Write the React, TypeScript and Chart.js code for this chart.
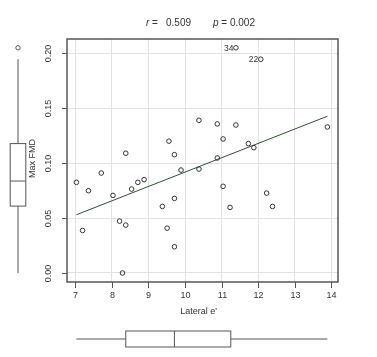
import React, { useEffect, useRef } from 'react';
import { Chart, registerables } from 'chart.js';

Chart.register(...registerables);

// ---- Data ----
const lateralE = [
  10.38, 10.88, 9.56, 9.71, 8.38, 10.88, 11.39, 12.07, 11.39, 11.04, 11.73, 11.88,
  13.89, 7.71, 9.89, 10.38, 7.03, 7.36, 8.71, 8.88, 8.54, 8.03, 9.38, 9.71,
  8.21, 8.38, 7.2, 9.51, 9.71, 8.29, 11.04, 11.23, 12.23, 12.39,
];
const maxFMD = [
  0.139, 0.1357, 0.12, 0.1077, 0.109, 0.1047, 0.205, 0.1946, 0.1347, 0.122, 0.1178, 0.1141,
  0.1329, 0.091, 0.0937, 0.0946, 0.0825, 0.0749, 0.0825, 0.085, 0.0764, 0.0706, 0.0606, 0.0679,
  0.0472, 0.0436, 0.0387, 0.0408, 0.0239, 0.0, 0.0789, 0.0597, 0.0727, 0.0606,
];
const pointLabels = [
  '', '', '', '', '', '', '34', '22', '', '', '', '',
  '', '', '', '', '', '', '', '', '', '', '', '',
  '', '', '', '', '', '', '', '', '', '',
];
const fitX = [7.03, 13.89];
const fitY = [0.053, 0.1427];

// boxplot stats: [lower whisker, Q1, median, Q3, upper whisker]
const xBoxStats = [7.03, 8.38, 9.71, 11.25, 13.89];
const yBoxStats = [0.0, 0.0609, 0.0837, 0.1178, 0.1946];
const yBoxOutliers = [0.205];

const xTicks = [7, 8, 9, 10, 11, 12, 13, 14];
const xTickLabels = ['7', '8', '9', '10', '11', '12', '13', '14'];
const yTicks = [0, 0.05, 0.1, 0.15, 0.2];
const yTickLabels = ['0.00', '0.05', '0.10', '0.15', '0.20'];

const rValue = '0.509';
const pValue = '0.002';
const xTitle = "Lateral e'";
const yTitle = 'Max FMD';

const FONT = '"Liberation Sans", Arial, sans-serif';
const TEXT = '#333';
const AXIS = '#555';

const decorPlugin = {
  id: 'decor',
  afterDraw(chart: any) {
    const ctx = chart.ctx as CanvasRenderingContext2D;
    const { left, right, top, bottom } = chart.chartArea;
    const xs = chart.scales.x;
    const ys = chart.scales.y;
    ctx.save();

    // plot frame
    ctx.strokeStyle = AXIS;
    ctx.lineWidth = 1.5;
    ctx.strokeRect(left, top, right - left, bottom - top);

    // x ticks + labels
    ctx.lineWidth = 1;
    ctx.fillStyle = TEXT;
    ctx.font = `9px ${FONT}`;
    ctx.textAlign = 'center';
    ctx.textBaseline = 'middle';
    xTicks.forEach((v, i) => {
      const px = Math.round(xs.getPixelForValue(v)) + 0.5;
      ctx.beginPath();
      ctx.moveTo(px, bottom);
      ctx.lineTo(px, bottom + 6);
      ctx.stroke();
      ctx.fillText(xTickLabels[i], px, bottom + 14);
    });

    // y ticks + rotated labels
    yTicks.forEach((v, i) => {
      const py = Math.round(ys.getPixelForValue(v)) + 0.5;
      ctx.beginPath();
      ctx.moveTo(left - 5, py);
      ctx.lineTo(left, py);
      ctx.stroke();
      ctx.save();
      ctx.translate(left - 18, py);
      ctx.rotate(-Math.PI / 2);
      ctx.fillText(yTickLabels[i], 0, 0);
      ctx.restore();
    });

    // axis titles
    ctx.font = `9px ${FONT}`;
    ctx.fillText(xTitle, (left + right) / 2 - 4, bottom + 30);
    ctx.save();
    ctx.translate(left - 34, (top + bottom) / 2 - 2);
    ctx.rotate(-Math.PI / 2);
    ctx.fillText(yTitle, 0, 0);
    ctx.restore();

    // title: r = 0.509   p = 0.002
    const ty = 23;
    ctx.textAlign = 'left';
    ctx.font = `italic 10px ${FONT}`;
    ctx.fillText('r', 146, ty);
    let w = ctx.measureText('r').width;
    ctx.font = `10px ${FONT}`;
    ctx.fillText(' =', 146 + w, ty);
    ctx.fillText(rValue, 166, ty);
    ctx.font = `italic 10px ${FONT}`;
    ctx.fillText('p', 213, ty);
    w = ctx.measureText('p').width;
    ctx.font = `10px ${FONT}`;
    ctx.fillText(' = ' + pValue, 213 + w, ty);

    // point labels
    ctx.font = `8.5px ${FONT}`;
    ctx.textAlign = 'right';
    pointLabels.forEach((lab, i) => {
      if (!lab) return;
      const px = xs.getPixelForValue(lateralE[i]);
      const py = ys.getPixelForValue(maxFMD[i]);
      ctx.fillText(lab, px - 2.5, py + 0.5);
    });

    // left (vertical) boxplot for y
    ctx.strokeStyle = AXIS;
    ctx.lineWidth = 1;
    const cx = 18;
    const hw = 7.8;
    const yp = yBoxStats.map((v) => ys.getPixelForValue(v));
    ctx.beginPath();
    ctx.moveTo(cx, yp[0]);
    ctx.lineTo(cx, yp[1]);
    ctx.moveTo(cx, yp[3]);
    ctx.lineTo(cx, yp[4]);
    ctx.stroke();
    ctx.fillStyle = '#fff';
    ctx.fillRect(cx - hw, yp[3], hw * 2, yp[1] - yp[3]);
    ctx.strokeRect(cx - hw, yp[3], hw * 2, yp[1] - yp[3]);
    ctx.beginPath();
    ctx.moveTo(cx - hw, yp[2]);
    ctx.lineTo(cx + hw, yp[2]);
    ctx.stroke();
    yBoxOutliers.forEach((v) => {
      ctx.beginPath();
      ctx.arc(cx, ys.getPixelForValue(v), 2.2, 0, Math.PI * 2);
      ctx.stroke();
    });

    // bottom (horizontal) boxplot for x
    const cy = 339;
    const hh = 8;
    const xp = xBoxStats.map((v) => xs.getPixelForValue(v));
    ctx.beginPath();
    ctx.moveTo(xp[0], cy);
    ctx.lineTo(xp[1], cy);
    ctx.moveTo(xp[3], cy);
    ctx.lineTo(xp[4], cy);
    ctx.stroke();
    ctx.fillRect(xp[1], cy - hh, xp[3] - xp[1], hh * 2);
    ctx.strokeRect(xp[1], cy - hh, xp[3] - xp[1], hh * 2);
    ctx.beginPath();
    ctx.moveTo(xp[2], cy - hh);
    ctx.lineTo(xp[2], cy + hh);
    ctx.stroke();

    ctx.restore();
  },
};

export default function App() {
  const ref = useRef<HTMLCanvasElement | null>(null);
  useEffect(() => {
    document.body.style.margin = '0';
    const canvas = ref.current;
    if (!canvas) return;
    const chart = new Chart(canvas, {
      type: 'scatter',
      data: {
        datasets: [
          {
            type: 'scatter',
            data: lateralE.map((x, i) => ({ x, y: maxFMD[i] })),
            pointRadius: 2.3,
            pointHoverRadius: 2.3,
            borderWidth: 1,
            borderColor: '#333',
            backgroundColor: 'rgba(255,255,255,0)',
            order: 1,
          },
          {
            type: 'line',
            data: fitX.map((x, i) => ({ x, y: fitY[i] })),
            borderColor: '#2f4f2f',
            borderWidth: 1,
            pointRadius: 0,
            fill: false,
            order: 2,
          } as any,
        ],
      },
      options: {
        responsive: false,
        animation: false,
        devicePixelRatio: 1,
        layout: { padding: { left: 67, top: 39, right: 39, bottom: 75 }, autoPadding: false },
        plugins: { legend: { display: false }, tooltip: { enabled: false }, title: { display: false } },
        scales: {
          x: {
            type: 'linear',
            min: 6.774,
            max: 14.18,
            afterBuildTicks: (s: any) => { s.ticks = xTicks.map((value) => ({ value })); },
            ticks: { display: false },
            grid: { color: '#e2e2e2', lineWidth: 1, drawTicks: false },
            border: { display: false },
          },
          y: {
            type: 'linear',
            min: -0.0082,
            max: 0.213,
            afterBuildTicks: (s: any) => { s.ticks = yTicks.map((value) => ({ value })); },
            ticks: { display: false },
            grid: { color: '#e2e2e2', lineWidth: 1, drawTicks: false },
            border: { display: false },
          },
        },
      },
      plugins: [decorPlugin],
    });
    return () => chart.destroy();
  }, []);
  return (
    <div style={{ width: 377, height: 357, background: '#fff' }}>
      <canvas ref={ref} width={377} height={357} style={{ display: 'block' }} />
    </div>
  );
}
